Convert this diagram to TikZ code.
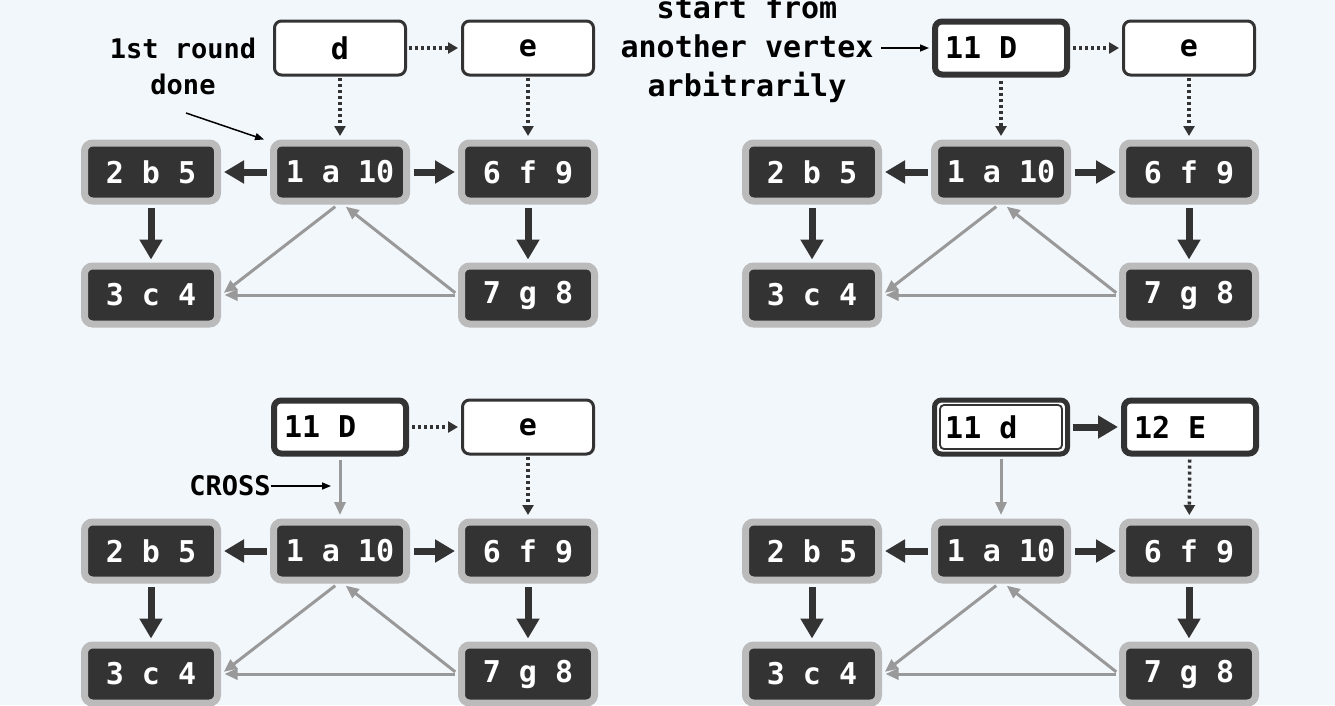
\documentclass[tikz,border=0pt]{standalone}
\usepackage{fontspec}
\setmonofont{DejaVu Sans Mono}
\usetikzlibrary{arrows.meta}
\definecolor{bg}{HTML}{F2F7FC}
\definecolor{dk}{HTML}{333333}
\definecolor{gb}{HTML}{BBBBBB}
\definecolor{ga}{HTML}{999999}
\tikzset{
  vtx/.style={rectangle, rounded corners=8pt, fill=dk, draw=gb, line width=7pt,
    minimum width=133pt, minimum height=58pt, text=white, inner sep=0pt,
    font=\ttfamily\bfseries\fontsize{30}{36}\selectfont},
  wbox/.style={rectangle, rounded corners=7pt, fill=white, draw=dk, line width=3pt,
    minimum width=131pt, minimum height=54pt, text=black, inner sep=0pt,
    font=\ttfamily\bfseries\fontsize{30}{36}\selectfont},
  hbox/.style={wbox, line width=6pt, minimum width=132pt, minimum height=53pt},
  dbox/.style={wbox, line width=5pt, minimum width=133pt, minimum height=54pt},
  inner line/.style={draw=dk, line width=1.8pt, rounded corners=4pt},
  tree/.style={draw=dk, line width=7pt, -{Triangle[length=20pt,width=22pt]},
    shorten <=3.5pt, shorten >=3pt},
  cross/.style={draw=ga, line width=3pt, -{Triangle[length=13pt,width=11pt]}},
  dots/.style={draw=dk, line width=3.5pt, dash pattern=on 3pt off 3pt,
    -{Triangle[length=10pt,width=11pt]}},
  note/.style={draw=black, line width=1.5pt, -{Triangle[length=9pt,width=7pt]}},
  lbl/.style={font=\ttfamily\bfseries\fontsize{27}{36}\selectfont, align=center, text=black, inner sep=0pt},
}
\newcommand\lefttext[1]{\makebox[112pt][l]{#1}}
\newcommand\graphcore[1]{%
  \node[vtx] (#1a) at (340,172) {1 a 10};
  \node[vtx] (#1b) at (151,172) {2 b 5};
  \node[vtx] (#1f) at (528,172) {6 f 9};
  \node[vtx] (#1c) at (151,295) {3 c 4};
  \node[vtx] (#1g) at (528,295) {7 g 8};
  \draw[tree] (#1a) -- (#1b);
  \draw[tree] (#1a) -- (#1f);
  \draw[tree] (#1b) -- (#1c);
  \draw[tree] (#1f) -- (#1g);
  \draw[cross, shorten <=3.5pt, shorten >=3.5pt] ([xshift=-2pt]#1a.south) -- (#1c.east);
  \draw[cross, shorten <=3.5pt, shorten >=3.5pt] (#1g.west) -- ([xshift=3pt]#1a.south);
  \draw[cross, shorten <=3.5pt, shorten >=3.5pt] (#1g.west) -- (#1c.east);
}
\begin{document}
\begin{tikzpicture}[x=1pt, y=-1pt]
  \fill[bg] (0,0) rectangle (1335,705);
  \useasboundingbox (0,0) rectangle (1335,705);

  % ---------- top left ----------
  \begin{scope}
    \graphcore{TL}
    \node[wbox] (TLd) at (340,48) {d};
    \node[wbox] (TLe) at (528,48) {e};
    \draw[dots, shorten <=1.5pt, shorten >=3pt] (TLd) -- (TLe);
    \draw[dots, shorten <=1.5pt, shorten >=3.5pt] (TLd) -- (TLa);
    \draw[dots, shorten <=1.5pt, shorten >=3.5pt] (TLe) -- (TLf);
    \node[lbl] (TLn) at (183,66) {1st round\\done};
    \coordinate (TLs) at (186,113);
    \draw[note] (TLs) -- ([xshift=-6pt]TLa.north west);
  \end{scope}

  % ---------- top right ----------
  \begin{scope}[shift={(661,0)}]
    \graphcore{TR}
    \node[hbox] (TRd) at (340,48) {\lefttext{11 D}};
    \node[wbox] (TRe) at (528,48) {e};
    \draw[dots, shorten <=3pt, shorten >=3pt] (TRd) -- (TRe);
    \draw[dots, shorten <=3pt, shorten >=3.5pt] (TRd) -- (TRa);
    \draw[dots, shorten <=1.5pt, shorten >=3.5pt] (TRe) -- (TRf);
    \node[lbl, font=\ttfamily\bfseries\fontsize{30}{39}\selectfont] (TRn) at (86,49) {start from\\another vertex\\arbitrarily};
    \coordinate (TRs) at (220,48);
    \draw[note] (TRs) -- ([xshift=-3pt]TRd.west);
  \end{scope}

  % ---------- bottom left ----------
  \begin{scope}[shift={(0,379)}]
    \graphcore{BL}
    \node[hbox] (BLd) at (340,48) {\lefttext{11 D}};
    \node[wbox] (BLe) at (528,48) {e};
    \draw[dots, shorten <=3pt, shorten >=3pt] (BLd) -- (BLe);
    \draw[cross, shorten <=3pt, shorten >=3.5pt] (BLd) -- (BLa);
    \draw[dots, shorten <=1.5pt, shorten >=3.5pt] (BLe) -- (BLf);
    \node[lbl] (BLn) at (230,107) {CROSS};
    \coordinate (BLt) at (331,107);
    \draw[note] (BLn.east) -- (BLt);
  \end{scope}

  % ---------- bottom right ----------
  \begin{scope}[shift={(661,379)}]
    \graphcore{BR}
    \node[dbox] (BRd) at (340,48) {};
    \draw[inner line] (279,26) rectangle (401,70);
    \node[anchor=west, inner sep=0pt, font=\ttfamily\bfseries\fontsize{30}{36}\selectfont] (BRdt) at (284,48) {11 d};
    \node[hbox] (BRe) at (529,48) {\lefttext{12 E}};
    \draw[tree, shorten <=2.5pt, shorten >=3pt] (BRd) -- (BRe);
    \draw[cross, shorten <=2.5pt, shorten >=3.5pt] (BRd) -- (BRa);
    \draw[dots, shorten <=3pt, shorten >=3.5pt] (BRe) -- (BRf);
  \end{scope}
\end{tikzpicture}
\end{document}
